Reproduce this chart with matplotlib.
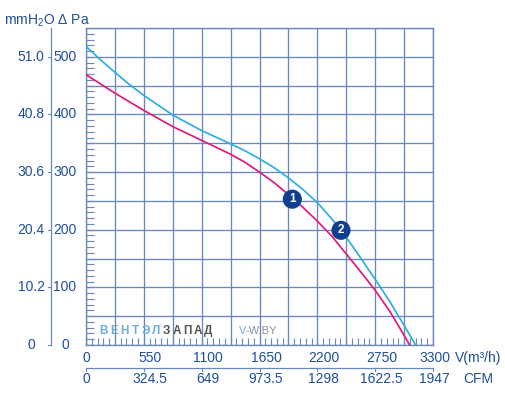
import numpy as np
import matplotlib
matplotlib.use('Agg')
import matplotlib.pyplot as plt

plt.rcParams['font.family'] = ['Liberation Sans', 'DejaVu Sans']
plt.rcParams['mathtext.fontset'] = 'custom'
plt.rcParams['mathtext.rm'] = 'Liberation Sans'

# curve 1 (magenta) and curve 2 (cyan): flow m3/h vs pressure Pa
flow1 = [0, 275, 550, 825, 1100, 1375, 1512, 1650, 1787, 1925, 2062, 2200,
         2337, 2475, 2612, 2750, 2887, 3025, 3077]
pres1 = [469, 437, 407, 379, 355, 331, 317, 300, 282, 261, 239, 215,
         189, 158, 127, 95, 59, 17, 0]
flow2 = [0, 137, 275, 412, 550, 825, 1100, 1375, 1512, 1650, 1787, 1925, 2062,
         2200, 2337, 2475, 2612, 2750, 2887, 3025, 3135]
pres2 = [518, 495, 473, 452, 433, 399, 372, 349, 337, 323, 308, 290, 270,
         247, 219, 187, 151, 114, 76, 34, 0]

badge_x = [1962, 2425]
badge_y = [253, 199]
badge_txt = ['1', '2']

pa_ticks = [0, 100, 200, 300, 400, 500]
mm_labels = ['0', '10.2', '20.4', '30.6', '40.8', '51.0']
v_ticks = [0, 550, 1100, 1650, 2200, 2750, 3300]
cfm_labels = ['0', '324.5', '649', '973.5', '1298', '1622.5', '1947']

txt_col = '#1f4e9a'
grid_col = '#6787bd'

fig = plt.figure(figsize=(5.06, 3.95), dpi=100)
ax = fig.add_axes([86 / 506, 50 / 395, 347 / 506, 317 / 395])
ax.set_xlim(0, 3300)
ax.set_ylim(0, 550)

for x in np.arange(0, 3301, 275):
    ax.axvline(x, color=grid_col, lw=0.95, zorder=1)
for y in np.arange(0, 551, 50):
    ax.axhline(y, color=grid_col, lw=0.95, zorder=1)
for s in ax.spines.values():
    s.set_color(grid_col)
    s.set_linewidth(0.95)

# inward minor ticks
ax.set_xticks(np.arange(0, 3301, 55))
ax.set_yticks(np.arange(0, 551, 10))
ax.tick_params(axis='x', direction='in', length=5, color=grid_col, width=0.8,
               labelbottom=False)
ax.tick_params(axis='y', direction='in', length=6, color=grid_col, width=0.8,
               labelleft=False)

ax.plot(flow1, pres1, color='#e0197f', lw=1.25, zorder=3)
ax.plot(flow2, pres2, color='#2eaee2', lw=1.25, zorder=3)

ax.scatter(badge_x, badge_y, s=190, color='#0f3f8e', zorder=4, edgecolors='none')
for bx, by, t in zip(badge_x, badge_y, badge_txt):
    ax.text(bx, by, t, color='white', fontsize=8.5, fontweight='bold',
            ha='center', va='center', zorder=5)

# left scales
yt = ax.get_yaxis_transform()
for p, m in zip(pa_ticks, mm_labels):
    ax.text(-0.0605, p, str(p), transform=yt, ha='center', va='center',
            fontsize=10, color=txt_col, clip_on=False)
    ax.text(-0.1585, p, m, transform=yt, ha='center', va='center',
            fontsize=10, color=txt_col, clip_on=False)
    ax.plot([-0.1095, -0.1009], [p, p], transform=yt, color=grid_col,
            lw=0.8, clip_on=False)
ax.plot([-0.1009, -0.1009], [0, 550], transform=yt, color=grid_col,
        lw=0.9, clip_on=False)

# bottom scales
xt = ax.get_xaxis_transform()
n = len(v_ticks)
for i, (v, c) in enumerate(zip(v_ticks, cfm_labels)):
    off = 0 if i == 0 else (1.5 if i == n - 1 else 6.5)
    xa = v / 3300 + off / 347
    ax.text(xa, -0.041, str(v), transform=ax.transAxes, ha='center', va='center',
            fontsize=10, color=txt_col, clip_on=False)
    ax.text(xa, -0.107, c, transform=ax.transAxes, ha='center', va='center',
            fontsize=10, color=txt_col, clip_on=False)
    ax.plot([v, v], [-0.0726, -0.0826], transform=xt, color=grid_col,
            lw=0.8, clip_on=False)
ax.plot([0, 3300], [-0.0726, -0.0726], transform=xt, color=grid_col,
        lw=0.9, clip_on=False)
ax.text(1.1297, -0.041, 'V(m³/h)', transform=ax.transAxes, ha='center',
        va='center', fontsize=10, color=txt_col, clip_on=False)
ax.text(1.131, -0.107, 'CFM', transform=ax.transAxes, ha='center',
        va='center', fontsize=10, color=txt_col, clip_on=False)

fig.text(4 / 506, 1 - 21 / 395, r'mmH$_{\mathregular{2}}$O Δ Pa', ha='left',
         va='center', fontsize=10, color=txt_col)

# watermark
brand = 'ВЕНТЭЛЗАПАД'
for i, ch in enumerate(brand):
    ax.text((104 - 86 + 10.4 * i) / 347, (345 - 331) / 317, ch,
            transform=ax.transAxes, fontsize=8.5, fontweight='bold',
            color='#6aaee0' if i < 6 else '#555555', ha='center', va='center',
            zorder=2)
ax.text((239 - 86) / 347, (345 - 331) / 317, 'V', transform=ax.transAxes,
        fontsize=8, color='#6aaee0', ha='left', va='center', zorder=2)
ax.text((245 - 86) / 347, (345 - 331) / 317, '-W.BY', transform=ax.transAxes,
        fontsize=8, color='#8890a0', ha='left', va='center', zorder=2)

fig.savefig('out.png', dpi=100)
